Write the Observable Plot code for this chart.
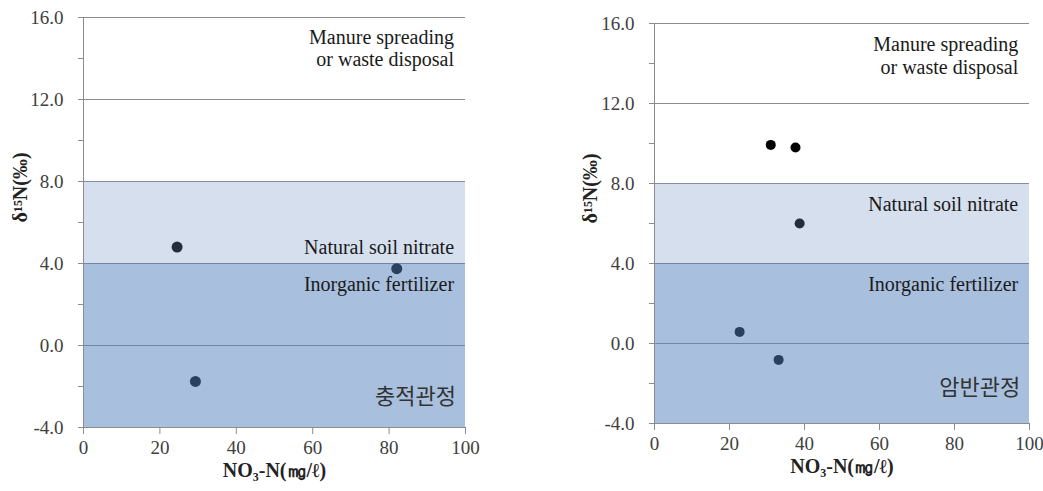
<!DOCTYPE html>
<html>
<head>
<meta charset="utf-8">
<script src="https://cdn.jsdelivr.net/npm/d3@7"></script>
<script src="https://cdn.jsdelivr.net/npm/@observablehq/plot@0.6"></script>
<style>
  html, body { margin: 0; padding: 0; background: #fff; }
  #wrap { display: flex; flex-direction: row; width: 1043px; height: 491px; }
</style>
</head>
<body>
<div id="wrap"></div>
<script>
// ---- data ----
const xDomain = [0, 100];
const yDomain = [-4, 16];
const ticksX = [0, 20, 40, 60, 80, 100];
const ticksY = [-4, -2, 0, 2, 4, 6, 8, 10, 12, 14, 16];
const gridY = [0, 4, 8, 12, 16];
const bandLow = [-4, 4];
const bandHigh = [4, 8];
const zoneLabels = ["Manure spreading\nor waste disposal", "Natural soil nitrate", "Inorganic fertilizer"];

const leftX = [24.5, 82.0, 29.3];
const leftY = [4.8, 3.75, -1.75];
const leftZoneY = [14.53, 4.8, 3.0];
const leftSite = "충적관정";
const leftSiteY = -2.5;

const rightX = [31.0, 37.6, 38.7, 22.7, 33.1];
const rightY = [9.93, 9.8, 6.0, 0.58, -0.82];
const rightZoneY = [14.4, 7.0, 3.0];
const rightSite = "암반관정";
const rightSiteY = -2.2;

const yLabel = "δ¹⁵N(‰)";
const xLabel = "NO₃-N(㎎/ℓ)";

// ---- drawing ----
const SERIF = "Liberation Serif";
const KR = "Noto Sans CJK KR";
const bandFill = ["#5181bd", "#7394c6"];
const bandOpacity = [0.5, 0.3];

function panel(cfg) {
  const pts = cfg.xs.map((x, i) => ({x, y: cfg.ys[i]}));
  const bands = bandLow.map((lo, i) => ({x1: xDomain[0], x2: xDomain[1], lo, hi: bandHigh[i]}));
  const zones = zoneLabels.map((t, i) => ({t, y: cfg.zoneY[i]}));
  const svg = Plot.plot({
    width: cfg.width, height: 491,
    marginLeft: cfg.mL, marginRight: cfg.mR, marginTop: cfg.mT, marginBottom: cfg.mB,
    x: {domain: xDomain},
    y: {domain: yDomain},
    style: "font-family: 'Liberation Serif', serif; font-size: 18px; color: #404040; background: white; overflow: visible;",
    marks: [
      Plot.ruleY(gridY, {stroke: "#8c8c8c", strokeWidth: 1}),
      Plot.dot(pts, {x: "x", y: "y", r: cfg.r, fill: "#000", stroke: "none"}),
      Plot.rect([bands[0]], {x1: "x1", x2: "x2", y1: "lo", y2: "hi", fill: bandFill[0], fillOpacity: bandOpacity[0]}),
      Plot.rect([bands[1]], {x1: "x1", x2: "x2", y1: "lo", y2: "hi", fill: bandFill[1], fillOpacity: bandOpacity[1]}),
      Plot.ruleX([xDomain[0]], {stroke: "#8c8c8c"}),
      Plot.ruleY([yDomain[0]], {stroke: "#8c8c8c"}),
      Plot.axisY(ticksY, {tickSize: 5, tickPadding: 15, fontSize: 19, fontFamily: SERIF, stroke: "#8c8c8c", fill: "#404040",
        tickFormat: d => (d % 4 === 0 ? d.toFixed(1) : ""), label: null}),
      Plot.axisX(ticksX, {tickSize: 7, tickPadding: 6, fontSize: 19, fontFamily: SERIF, stroke: "#8c8c8c", fill: "#404040", label: null}),
      Plot.text(zones, {x: 97, y: "y", text: "t", textAnchor: "end", fontFamily: SERIF, fontSize: 20, fill: "#1a1a1a", lineHeight: 1.15}),
      Plot.text([cfg.site], {x: 97.5, y: cfg.siteY, text: d => d, textAnchor: "end",
        fontFamily: KR, fontSize: 22, fill: "#333"}),
      Plot.text([yLabel], {text: d => d, frameAnchor: "left", dx: cfg.ylDx, rotate: -90, fontFamily: SERIF,
        fontWeight: "bold", fontSize: 20, fill: "#222"}),
      Plot.text([xLabel], {text: d => d, frameAnchor: "bottom", dy: 49, fontFamily: SERIF,
        fontWeight: "bold", fontSize: 20, fill: "#222"})
    ]
  });
  // force the fonts inline on every text element
  d3.select(svg).selectAll("text, tspan").each(function() {
    const s = d3.select(this).text();
    const isKR = /[\uac00-\ud7a3]/.test(s);
    d3.select(this).style("font-family", isKR ? `'${KR}', sans-serif` : `'${SERIF}', 'Times New Roman', serif`);
  });
  return svg;
}

const wrap = document.getElementById("wrap");
wrap.appendChild(panel({width: 520, mL: 83, mR: 55, mT: 17, mB: 64, xs: leftX, ys: leftY,
  zoneY: leftZoneY, site: leftSite, siteY: leftSiteY, ylDx: -63, r: 5.5}));
wrap.appendChild(panel({width: 523, mL: 134, mR: 14, mT: 23, mB: 68, xs: rightX, ys: rightY,
  zoneY: rightZoneY, site: rightSite, siteY: rightSiteY, ylDx: -64, r: 5}));
</script>
</body>
</html>
